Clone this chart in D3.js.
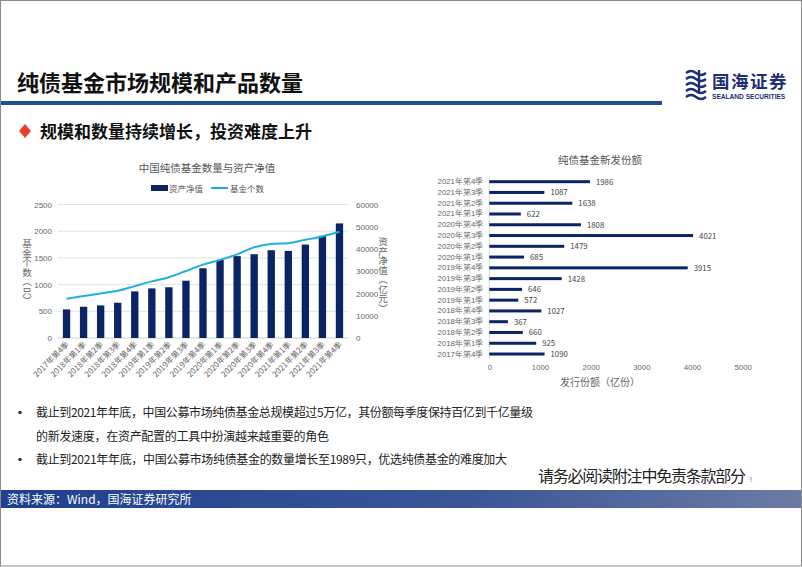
<!DOCTYPE html>
<html>
<head>
<meta charset="utf-8">
<script src="https://cdn.jsdelivr.net/npm/d3@7"></script>
<style>
  html, body { margin: 0; padding: 0; background: #fff; }
  svg { display: block; font-family: "Noto Sans CJK SC", "Noto Sans", sans-serif; }
</style>
</head>
<body>
<svg id="slide" width="802" height="567"></svg>
<script>
// 季度
const quarters = ['2017年第4季','2018年第1季','2018年第2季','2018年第3季','2018年第4季',
  '2019年第1季','2019年第2季','2019年第3季','2019年第4季','2020年第1季','2020年第2季',
  '2020年第3季','2020年第4季','2021年第1季','2021年第2季','2021年第3季','2021年第4季'];

// 资产净值（亿元）
const netAssets = [12850, 14050, 14650, 15850, 20950, 22300, 22800, 25750, 31350, 35200,
  36800, 37650, 39450, 39150, 42000, 45950, 51500];

// 基金个数（只）
const fundCount = [735, 785, 835, 884, 972, 1060, 1138, 1254, 1374, 1463, 1567, 1700,
  1762, 1776, 1838, 1902, 1989];

// 新发份额（亿份）
const newShares = [1090, 925, 660, 367, 1027, 572, 646, 1428, 3915, 685, 1479, 4021,
  1808, 622, 1638, 1087, 1986];

const leftTicks = [0, 500, 1000, 1500, 2000, 2500];
const rightTicks = [0, 10000, 20000, 30000, 40000, 50000, 60000];
const shareTicks = [0, 1000, 2000, 3000, 4000, 5000];

const NAVY = '#0b2466';
const LINE_BLUE = '#1eaee6';
const AXIS_TEXT = '#666';
const GRID = '#d9d9d9';
const fmt = d3.format('d');

const svg = d3.select('#slide');

// 漸層 (頁尾)
const defs = svg.append('defs');
const grad = defs.append('linearGradient').attr('id', 'footGrad');
grad.append('stop').attr('offset', '0%').attr('stop-color', '#1f3f8f');
grad.append('stop').attr('offset', '60%').attr('stop-color', '#3c5698');
grad.append('stop').attr('offset', '100%').attr('stop-color', '#6b7ba3');

//頁首
svg.append('text')
  .attr('x', 17).attr('y', 91)
  .attr('font-size', 22).attr('font-weight', 'bold').attr('fill', '#111')
  .text('纯债基金市场规模和产品数量');

svg.append('rect')
  .attr('x', 0).attr('y', 101).attr('width', 662).attr('height', 4)
  .attr('fill', '#1f4e9b');

// logo
const logo = svg.append('g').attr('transform', 'translate(686,70)');
[0, 6, 12, 18, 24].forEach((dy) => {
  logo.append('path')
    .attr('d', `M0,${dy + 3} q5,-4 10,0 t10,0`)
    .attr('fill', 'none').attr('stroke', '#1b2f78').attr('stroke-width', 2.4);
});
logo.append('path').attr('d', 'M13,0 L13,22').attr('stroke', '#1b2f78').attr('stroke-width', 2.4);
logo.append('text')
  .attr('x', 26).attr('y', 18)
  .attr('font-size', 17.5).attr('font-weight', 'bold').attr('fill', '#1b2f78')
  .attr('letter-spacing', 1.5)
  .text('国海证券');
logo.append('text')
  .attr('x', 26).attr('y', 29)
  .attr('font-size', 6.6).attr('font-weight', 'bold').attr('fill', '#1b2f78')
  .attr('font-family', 'Liberation Sans, Arial, sans-serif')
  .text('SEALAND SECURITIES');

//副標題
svg.append('path')
  .attr('d', 'M25,124 L31,131 L25,138 L19,131 Z')
  .attr('fill', '#e8402c');
svg.append('text')
  .attr('x', 40).attr('y', 137.5)
  .attr('font-size', 17).attr('font-weight', 'bold').attr('fill', '#111')
  .text('规模和数量持续增长，投资难度上升');

// ---------- 左圖：数量与资产净值 ----------
const L = { left: 58, right: 348, top: 204.5, bottom: 338 };

const xBand = d3.scaleBand().domain(quarters).range([L.left, L.right]).paddingInner(0.57).paddingOuter(0.285);
const yCount = d3.scaleLinear().domain([0, 2500]).range([L.bottom, L.top]);
const yAsset = d3.scaleLinear().domain([0, 60000]).range([L.bottom, L.top]);

const left = svg.append('g');

left.append('text')
  .attr('x', 207).attr('y', 172)
  .attr('text-anchor', 'middle').attr('font-size', 10.5).attr('fill', '#555')
  .text('中国纯债基金数量与资产净值');

// 圖例
left.append('rect').attr('x', 151).attr('y', 185).attr('width', 17).attr('height', 6).attr('fill', NAVY);
left.append('text').attr('x', 169).attr('y', 191.5).attr('font-size', 8.5).attr('fill', '#555').text('资产净值');
left.append('line').attr('x1', 211).attr('x2', 228).attr('y1', 188).attr('y2', 188)
  .attr('stroke', LINE_BLUE).attr('stroke-width', 2);
left.append('text').attr('x', 230).attr('y', 191.5).attr('font-size', 8.5).attr('fill', '#555').text('基金个数');

// 格線
left.append('g')
  .selectAll('line')
  .data(leftTicks)
  .enter()
  .append('line')
  .attr('x1', L.left).attr('x2', L.right)
  .attr('y1', d => yCount(d)).attr('y2', d => yCount(d))
  .attr('stroke', d => d === 0 ? '#bfbfbf' : GRID).attr('stroke-width', 0.8);

// 左軸
left.append('g')
  .attr('transform', `translate(${L.left - 4},0)`)
  .call(d3.axisLeft(yCount).tickValues(leftTicks).tickFormat(fmt).tickSize(0).tickPadding(2))
  .call(g => g.select('.domain').remove())
  .call(g => g.selectAll('text').attr('font-size', 8).attr('fill', AXIS_TEXT));

// 右軸
left.append('g')
  .attr('transform', `translate(${L.right + 6},0)`)
  .call(d3.axisRight(yAsset).tickValues(rightTicks).tickFormat(fmt).tickSize(0).tickPadding(2))
  .call(g => g.select('.domain').remove())
  .call(g => g.selectAll('text').attr('font-size', 8).attr('fill', AXIS_TEXT));

// 直排軸標題
function verticalTitle(g, x, y, label) {
  g.append('text')
    .attr('x', x).attr('y', y)
    .attr('writing-mode', 'vertical-rl')
    .attr('font-size', 9.5).attr('fill', '#666')
    .text(label);
}
verticalTitle(left, 27, 239, '基金个数（只）');
verticalTitle(left, 383, 237, '资产净值（亿元）');

// 柱
left.append('g')
  .selectAll('rect')
  .data(quarters)
  .enter()
  .append('rect')
  .attr('x', d => xBand(d))
  .attr('width', xBand.bandwidth())
  .attr('y', (d, i) => yAsset(netAssets[i]))
  .attr('height', (d, i) => L.bottom - yAsset(netAssets[i]))
  .attr('fill', NAVY);

// 折線
const line = d3.line()
  .x((d, i) => xBand(quarters[i]) + xBand.bandwidth() / 2)
  .y(d => yCount(d))
  .curve(d3.curveMonotoneX);

left.append('path')
  .datum(fundCount)
  .attr('d', line)
  .attr('fill', 'none')
  .attr('stroke', LINE_BLUE)
  .attr('stroke-width', 2);

// X 標籤
left.append('g')
  .selectAll('text')
  .data(quarters)
  .enter()
  .append('text')
  .attr('transform', d => `translate(${xBand(d) + xBand.bandwidth() / 2 + 3},${L.bottom + 7}) rotate(-45)`)
  .attr('text-anchor', 'end')
  .attr('font-size', 8).attr('fill', AXIS_TEXT)
  .text(d => d);

// ---------- 右圖：新发份额 ----------
const R = { left: 489.3, right: 742.7, top: 176.3, bottom: 359.4 };

const yQ = d3.scaleBand().domain(quarters.slice().reverse()).range([R.top, R.bottom]).paddingInner(0.72).paddingOuter(0.36);
const xShare = d3.scaleLinear().domain([0, 5000]).range([R.left, R.right]);

const right = svg.append('g');

right.append('text')
  .attr('x', 600).attr('y', 164)
  .attr('text-anchor', 'middle').attr('font-size', 10.5).attr('fill', '#555')
  .text('纯债基金新发份额');

right.append('line')
  .attr('x1', R.left).attr('x2', R.left)
  .attr('y1', R.top).attr('y2', R.bottom)
  .attr('stroke', '#d0d0d0').attr('stroke-width', 0.8);

right.append('g')
  .attr('transform', `translate(${R.left - 6},0)`)
  .call(d3.axisLeft(yQ).tickSize(0).tickPadding(0))
  .call(g => g.select('.domain').remove())
  .call(g => g.selectAll('text').attr('font-size', 7.8).attr('fill', AXIS_TEXT));

right.append('g')
  .attr('transform', `translate(0,${R.bottom + 1})`)
  .call(d3.axisBottom(xShare).tickValues(shareTicks).tickFormat(fmt).tickSize(0).tickPadding(4))
  .call(g => g.select('.domain').remove())
  .call(g => g.selectAll('text').attr('font-size', 7.8).attr('fill', AXIS_TEXT));

right.append('text')
  .attr('x', 600).attr('y', 386)
  .attr('text-anchor', 'middle').attr('font-size', 10).attr('fill', '#666')
  .text('发行份额（亿份）');

right.append('g')
  .selectAll('rect')
  .data(quarters)
  .enter()
  .append('rect')
  .attr('x', R.left)
  .attr('y', d => yQ(d))
  .attr('height', yQ.bandwidth())
  .attr('width', (d, i) => xShare(newShares[i]) - R.left)
  .attr('fill', NAVY);

right.append('g')
  .selectAll('text')
  .data(quarters)
  .enter()
  .append('text')
  .attr('x', (d, i) => xShare(newShares[i]) + 6)
  .attr('y', d => yQ(d) + yQ.bandwidth() / 2 + 3)
  .attr('font-size', 7.8).attr('fill', '#444')
  .text((d, i) => newShares[i]);

// ---------- 要點 ----------
const bullets = [
  { y: 417, dot: true, len: 497, text: '截止到2021年年底，中国公募市场纯债基金总规模超过5万亿，其份额每季度保持百亿到千亿量级' },
  { y: 441, dot: false, len: 293, text: '的新发速度，在资产配置的工具中扮演越来越重要的角色' },
  { y: 464, dot: true, len: 471, text: '截止到2021年年底，中国公募市场纯债基金的数量增长至1989只，优选纯债基金的难度加大' }
];
const notes = svg.append('g');
notes.selectAll('text.b')
  .data(bullets)
  .enter()
  .append('text')
  .attr('class', 'b')
  .attr('x', 36).attr('y', d => d.y)
  .attr('font-size', 12).attr('fill', '#222')
  .attr('textLength', d => d.len)
  .text(d => d.text);
notes.selectAll('circle')
  .data(bullets.filter(d => d.dot))
  .enter()
  .append('circle')
  .attr('cx', 20).attr('cy', d => d.y - 4.5)
  .attr('r', 1.8).attr('fill', '#333');

svg.append('text')
  .attr('x', 538).attr('y', 482)
  .attr('font-size', 16).attr('fill', '#222')
  .attr('textLength', 208)
  .text('请务必阅读附注中免责条款部分');
svg.append('text')
  .attr('x', 749).attr('y', 482)
  .attr('font-size', 6).attr('fill', '#999')
  .text('3');

// 頁尾
svg.append('rect')
  .attr('x', 1).attr('y', 490).attr('width', 800).attr('height', 18)
  .attr('fill', 'url(#footGrad)');
svg.append('text')
  .attr('x', 7).attr('y', 503.5)
  .attr('font-size', 12).attr('fill', '#fff')
  .text('资料来源：Wind，国海证券研究所');

// 邊框
svg.append('rect')
  .attr('x', 0.5).attr('y', 0.5).attr('width', 801).attr('height', 565.5)
  .attr('fill', 'none').attr('stroke', '#8a8a8a').attr('stroke-width', 1);
</script>
</body>
</html>
